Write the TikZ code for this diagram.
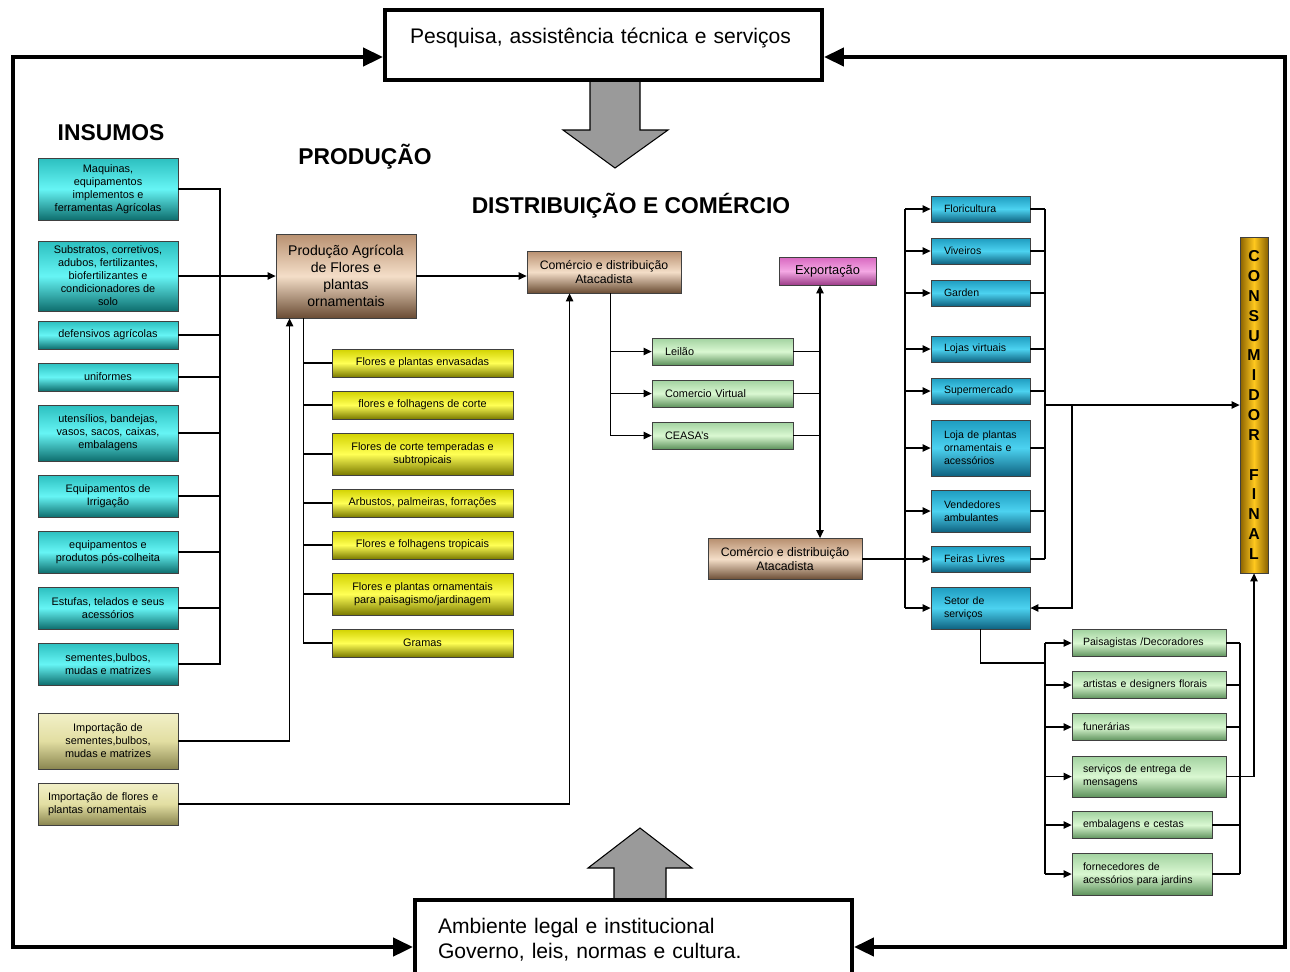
\documentclass[tikz,border=0pt]{standalone}
\usepackage{fontspec}
\setmainfont{Liberation Sans}
\usetikzlibrary{arrows.meta}
\definecolor{InsTop}{HTML}{2CBFBF}
\definecolor{InsMid}{HTML}{66F5F5}
\definecolor{InsBot}{HTML}{0E6E6E}
\definecolor{ImpTop}{HTML}{F2F0C8}
\definecolor{ImpMid}{HTML}{E2DEA2}
\definecolor{ImpBot}{HTML}{8A8650}
\definecolor{PrdTop}{HTML}{B89070}
\definecolor{PrdMid}{HTML}{F4DEC8}
\definecolor{PrdBot}{HTML}{6A4C34}
\definecolor{YelTop}{HTML}{D2D200}
\definecolor{YelMid}{HTML}{FFFF55}
\definecolor{YelBot}{HTML}{7A7A00}
\definecolor{GrnTop}{HTML}{A2D2A0}
\definecolor{GrnMid}{HTML}{DAF8D2}
\definecolor{GrnBot}{HTML}{5E925C}
\definecolor{BluTop}{HTML}{1E9CC0}
\definecolor{BluMid}{HTML}{4CD2F0}
\definecolor{BluBot}{HTML}{0E6280}
\definecolor{ExpTop}{HTML}{D868C0}
\definecolor{ExpMid}{HTML}{F4A8E4}
\definecolor{ExpBot}{HTML}{9C3C88}
\definecolor{CnsSide}{HTML}{8A6200}
\definecolor{CnsMid}{HTML}{FFC81E}
\definecolor{ArrClr}{HTML}{9A9A9A}
\hyphenpenalty=10000

\begin{document}
\begin{tikzpicture}[x=0.02cm,y=-0.02cm,
  box/.style={draw=black!75,line width=0.5pt,inner sep=1pt,align=center,font=\fontsize{6.2}{7.4}\selectfont},
  lft/.style={align=left,inner xsep=0.26cm,text width=#1},
  ins/.style={box,top color=InsTop,bottom color=InsBot,middle color=InsMid,minimum width=2.8cm},
  imp/.style={box,top color=ImpTop,bottom color=ImpBot,middle color=ImpMid,minimum width=2.8cm},
  prd/.style={box,top color=PrdTop,bottom color=PrdBot,middle color=PrdMid},
  yel/.style={box,top color=YelTop,bottom color=YelBot,middle color=YelMid,minimum width=3.62cm},
  grn/.style={box,top color=GrnTop,bottom color=GrnBot,middle color=GrnMid},
  srv/.style={grn,font=\fontsize{6}{7.4}\selectfont,align=left,inner xsep=0.22cm,text width=#1},
  blu/.style={box,top color=BluTop,bottom color=BluBot,middle color=BluMid,font=\fontsize{6}{7.4}\selectfont,lft=1.46cm},
  exprt/.style={box,top color=ExpTop,bottom color=ExpBot,middle color=ExpMid},
  outer/.style={draw,line width=2.3pt,fill=white,align=left,font=\fontsize{12}{14.4}\selectfont,minimum height=#1},
  head/.style={font=\bfseries\fontsize{13}{15}\selectfont},
  link/.style={line width=0.6pt},
  arr/.style={link,-{Triangle[length=0.16cm,width=0.15cm]}},
  arrs/.style={link,{Triangle[length=0.16cm,width=0.15cm]}-{Triangle[length=0.16cm,width=0.15cm]}},
  frame/.style={line width=2.5pt,{Triangle[length=0.4cm,width=0.36cm]}-{Triangle[length=0.4cm,width=0.36cm]}},
  bigarr/.style={fill=ArrClr,draw=black,line width=0.6pt}]
\useasboundingbox (0,0) rectangle (1290,971);

\coordinate (tl) at (13,57);
\coordinate (bl) at (13,947);
\coordinate (tr) at (1285,57);
\coordinate (br) at (1285,947);
\coordinate (bus) at (220,0);
\coordinate (vx) at (820,0);
\coordinate (lb) at (905,0);
\coordinate (rb) at (1045,0);
\coordinate (sb) at (1072,0);
\coordinate (gr) at (1240,0);
\coordinate (sj) at (1045,663);

\draw[bigarr] (590,78) -- (640,78) -- (640,130) -- (668,130) -- (615,168) -- (563,130) -- (590,130) -- cycle;
\draw[bigarr] (614,902) -- (614,868) -- (588,868) -- (640,828) -- (692,868) -- (666,868) -- (666,902) -- cycle;

\node[outer=1.4cm,inner xsep=0.5cm,text width=7.74cm,text height=0.3cm,text depth=0.38cm] (T) at (603.5,45) {Pesquisa, assistência técnica e serviços};
\node[outer=1.6cm,inner xsep=0.46cm,text width=7.82cm] (B) at (633.5,940) {Ambiente legal e institucional\\Governo, leis, normas e cultura.};

\node[head] (H1) at (111,133) {INSUMOS};
\node[head] (H2) at (365,157) {PRODUÇÃO};
\node[head] (H3) at (631,206) {DISTRIBUIÇÃO E COMÉRCIO};

\node[ins,minimum height=1.24cm] (I1) at (108,189) {Maquinas,\\equipamentos\\implementos e\\ferramentas Agrícolas};
\node[ins,minimum height=1.4cm] (I2) at (108,276) {Substratos, corretivos,\\adubos, fertilizantes,\\biofertilizantes e\\condicionadores de\\solo};
\node[ins,minimum height=0.56cm] (I3) at (108,335) {defensivos agrícolas};
\node[ins,minimum height=0.56cm] (I4) at (108,377) {uniformes};
\node[ins,minimum height=1.12cm] (I5) at (108,433) {utensílios, bandejas,\\vasos, sacos, caixas,\\embalagens};
\node[ins,minimum height=0.84cm] (I6) at (108,496) {Equipamentos de\\Irrigação};
\node[ins,minimum height=0.84cm] (I7) at (108,552) {equipamentos e\\produtos pós-colheita};
\node[ins,minimum height=0.84cm] (I8) at (108,608) {Estufas, telados e seus\\acessórios};
\node[ins,minimum height=0.84cm] (I9) at (108,664) {sementes,bulbos,\\mudas e matrizes};
\node[imp,minimum height=1.12cm] (IM1) at (108,741) {Importação de\\sementes,bulbos,\\mudas e matrizes};
\node[imp,minimum height=0.84cm,inner xsep=0.2cm,align=left,text width=2.4cm] (IM2) at (108,804) {Importação de flores e\\plantas ornamentais};

\node[prd,minimum width=2.8cm,minimum height=1.68cm,font=\fontsize{8}{9.6}\selectfont] (P) at (346,276) {Produção Agrícola\\de Flores e\\plantas\\ornamentais};
\node[yel,minimum height=0.56cm] (Y1) at (422.5,363) {Flores e plantas envasadas};
\node[yel,minimum height=0.56cm] (Y2) at (422.5,405) {flores e folhagens de corte};
\node[yel,minimum height=0.84cm] (Y3) at (422.5,454) {Flores de corte temperadas e\\subtropicais};
\node[yel,minimum height=0.56cm] (Y4) at (422.5,503) {Arbustos, palmeiras, forrações};
\node[yel,minimum height=0.56cm] (Y5) at (422.5,545) {Flores e folhagens tropicais};
\node[yel,minimum height=0.84cm] (Y6) at (422.5,594) {Flores e plantas ornamentais\\para paisagismo/jardinagem};
\node[yel,minimum height=0.56cm] (Y7) at (422.5,643) {Gramas};

\node[prd,minimum width=3.08cm,minimum height=0.84cm,font=\fontsize{7}{8.2}\selectfont] (C1) at (604,272) {Comércio e distribuição\\Atacadista};
\node[grn,lft=2.3cm,minimum height=0.54cm] (L1) at (722.5,351.5) {Leilão};
\node[grn,lft=2.3cm,minimum height=0.54cm] (L2) at (722.5,393.5) {Comercio Virtual};
\node[grn,lft=2.3cm,minimum height=0.54cm] (L3) at (722.5,435.5) {CEASA's};
\node[exprt,minimum width=1.94cm,minimum height=0.56cm,font=\fontsize{7.3}{8.4}\selectfont] (E) at (827.5,271) {Exportação};
\node[prd,minimum width=3.08cm,minimum height=0.82cm,font=\fontsize{7}{8.2}\selectfont] (C2) at (785,559) {Comércio e distribuição\\Atacadista};

\node[blu,minimum height=0.52cm] (V1) at (980.5,209) {Floricultura};
\node[blu,minimum height=0.52cm] (V2) at (980.5,251) {Viveiros};
\node[blu,minimum height=0.52cm] (V3) at (980.5,293) {Garden};
\node[blu,minimum height=0.52cm] (V4) at (980.5,349) {Lojas virtuais};
\node[blu,minimum height=0.52cm] (V5) at (980.5,391) {Supermercado};
\node[blu,minimum height=1.12cm] (V6) at (980.5,448) {Loja de plantas\\ornamentais e\\acessórios};
\node[blu,minimum height=0.84cm] (V7) at (980.5,511) {Vendedores\\ambulantes};
\node[blu,minimum height=0.52cm] (V8) at (980.5,559) {Feiras Livres};
\node[blu,minimum height=0.84cm] (V9) at (980.5,608) {Setor de\\serviços};

\node[srv=2.64cm,minimum height=0.54cm] (S1) at (1149,643) {Paisagistas /Decoradores};
\node[srv=2.64cm,minimum height=0.54cm] (S2) at (1149,685) {artistas e designers florais};
\node[srv=2.64cm,minimum height=0.54cm] (S3) at (1149,727) {funerárias};
\node[srv=2.64cm,minimum height=0.82cm] (S4) at (1149,776.5) {serviços de entrega de\\mensagens};
\node[srv=2.36cm,minimum height=0.54cm] (S5) at (1142,825) {embalagens e cestas};
\node[srv=2.36cm,minimum height=0.84cm] (S6) at (1142,874) {fornecedores de\\acessórios para jardins};

\node[draw=black!75,line width=0.5pt,left color=CnsSide,right color=CnsSide,middle color=CnsMid,minimum width=0.56cm,minimum height=6.72cm,inner sep=0pt,align=center,font=\bfseries\fontsize{9}{11.3}\selectfont] (CF) at (1254,405) {C\\O\\N\\S\\U\\M\\I\\D\\O\\R\\[11.3pt]F\\I\\N\\A\\L};

\draw[frame] (tl -| T.west) -- (tl) -- (bl) -- (bl -| B.west);
\draw[frame] (tr -| T.east) -- (tr) -- (br) -- (br -| B.east);

\draw[link] (I1.east) -| (bus |- I9.east) -- (I9.east);
\foreach \n in {2,...,8} \draw[link] (I\n.east) -- (I\n.east -| bus);
\draw[arr] (bus |- P.west) -- (P.west);
\draw[arr] (IM1.east) -| ([xshift=0.28cm]P.south west);
\draw[arr] (IM2.east) -| ([xshift=0.86cm]C1.south west);

\draw[link] ([xshift=0.56cm]P.south west) |- (Y7.west);
\foreach \n in {1,...,6} \draw[link] ([xshift=0.56cm]P.south west |- Y\n.west) -- (Y\n.west);
\draw[arr] (P.east) -- (P.east -| C1.west);

\draw[link] ([xshift=1.68cm]C1.south west) -- ([xshift=1.68cm]C1.south west |- L3.west);
\foreach \n in {1,2,3} {
  \draw[arr] ([xshift=1.68cm]C1.south west |- L\n.west) -- (L\n.west);
  \draw[link] (L\n.east) -- (L\n.east -| vx);
}
\draw[arrs] (E.south -| vx) -- (C2.north -| vx);
\draw[arr] (C2.east) -- (V8.west);

\draw[link] (lb |- V1.west) -- (lb |- V9.west);
\foreach \n in {1,...,7,9} \draw[arr] (lb |- V\n.west) -- (V\n.west);
\draw[link] (rb |- V1.east) -- (rb |- V8.east);
\foreach \n in {1,...,8} \draw[link] (V\n.east) -- (V\n.east -| rb);
\draw[arr] (rb |- CF.west) -- (CF.west);
\draw[arr] (sb |- CF.west) |- (V9.east);

\draw[link] (V9.south) |- (sj);
\draw[link] (rb |- S1.west) -- (rb |- S6.west);
\foreach \n in {1,...,6} {
  \draw[arr] (rb |- S\n.west) -- (S\n.west);
  \draw[link] (S\n.east) -- (S\n.east -| gr);
}
\draw[link] (gr |- S1.east) -- (gr |- S6.east);
\draw[arr] (gr |- S4.east) -| (CF.south);

\end{tikzpicture}
\end{document}
